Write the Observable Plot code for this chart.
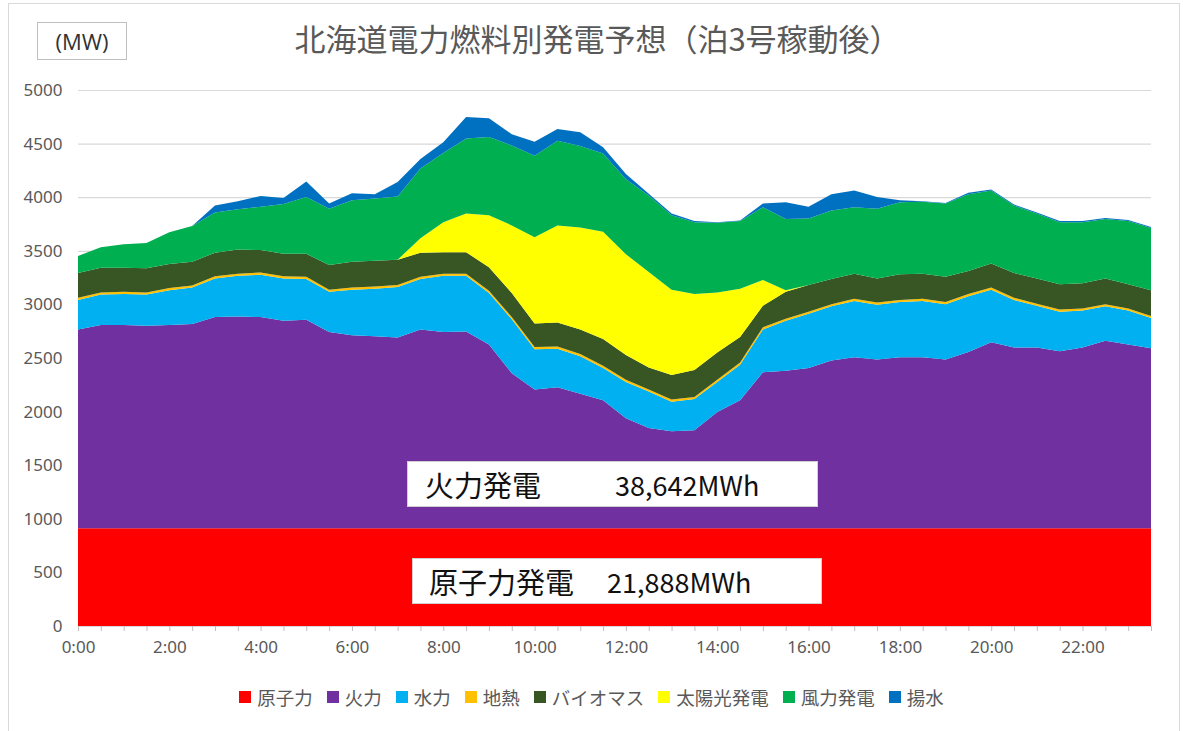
<!DOCTYPE html>
<html><head><meta charset="utf-8">
<script src="https://cdn.jsdelivr.net/npm/d3@7"></script>
<script src="https://cdn.jsdelivr.net/npm/@observablehq/plot@0.6"></script>
<style>
body{margin:0;background:#fff;font-family:"Noto Sans CJK JP","Noto Sans",sans-serif;}
#wrap{position:relative;width:1183px;height:731px;overflow:hidden;background:#fff;}
#frame{position:absolute;left:8px;top:3px;width:1170px;height:760px;border:1px solid #d9d9d9;}
#title{position:absolute;left:6px;width:1183px;top:21px;text-align:center;font-size:31px;line-height:34px;color:#595959;white-space:nowrap;}
#unit{position:absolute;left:37px;top:22px;width:90px;height:38px;box-sizing:border-box;border:1px solid #bfbfbf;text-align:center;font-size:22px;line-height:36px;color:#333;font-family:"Open Sans","Noto Sans",sans-serif;}
#chart{position:absolute;left:0;top:70px;}
.note{position:absolute;background:#fff;border:1px solid #d0d0d0;box-sizing:border-box;color:#111;font-size:29px;white-space:nowrap;}
.note span{position:absolute;top:50%;transform:translateY(-50%);}
#legend{position:absolute;left:0;width:1183px;top:684px;display:flex;justify-content:center;gap:14px;font-size:18.5px;color:#595959;}
#legend .item{display:flex;align-items:center;gap:6px;}
#legend .sw{width:12px;height:12px;display:inline-block;}
</style></head>
<body>
<div id="wrap">
  <div id="frame"></div>
  <div id="title"></div>
  <div id="unit">(MW)</div>
  <div id="chart"></div>
  <div class="note" id="note1" style="left:407px;top:461px;width:411px;height:46px;"></div>
  <div class="note" id="note2" style="left:412px;top:558px;width:410px;height:46px;"></div>
  <div id="legend"></div>
</div>
<script>
const titleText = "北海道電力燃料別発電予想（泊3号稼動後）";
const timeLabels = ["0:00","0:30","1:00","1:30","2:00","2:30","3:00","3:30","4:00","4:30",
  "5:00","5:30","6:00","6:30","7:00","7:30","8:00","8:30","9:00","9:30",
  "10:00","10:30","11:00","11:30","12:00","12:30","13:00","13:30","14:00","14:30",
  "15:00","15:30","16:00","16:30","17:00","17:30","18:00","18:30","19:00","19:30",
  "20:00","20:30","21:00","21:30","22:00","22:30","23:00","23:30"];
const seriesNames = ["原子力","火力","水力","地熱","バイオマス","太陽光発電","風力発電","揚水"];
const seriesColors = ["#ff0000","#7030a0","#00b0f0","#ffc000","#375623","#ffff00","#00b050","#0070c0"];
const yTicks = [0,500,1000,1500,2000,2500,3000,3500,4000,4500,5000];
const xLabelHours = [0,2,4,6,8,10,12,14,16,18,20,22];

const nuclear = [912,912,912,912,912,912,912,912,912,912,912,912,912,912,912,912,912,912,912,912,912,912,912,912,
  912,912,912,912,912,912,912,912,912,912,912,912,912,912,912,912,912,912,912,912,912,912,912,912];
const thermal = [1855,1895,1895,1890,1895,1905,1970,1975,1970,1935,
  1945,1830,1800,1790,1780,1855,1830,1835,1715,1445,
  1295,1315,1255,1195,1025,935,905,915,1085,1195,
  1455,1470,1495,1565,1595,1575,1595,1595,1575,1645,
  1735,1685,1685,1650,1685,1750,1715,1680];
const hydro = [275,285,290,290,325,340,360,380,395,395,
  380,375,425,445,470,470,525,520,480,505,
  375,360,350,300,340,340,275,290,280,330,
  400,465,505,505,525,510,515,525,515,520,
  490,445,390,370,345,320,315,280];
const geothermal = [20,20,20,20,20,20,20,20,20,20,20,20,20,20,20,20,20,20,20,20,20,20,20,20,
  20,20,20,20,20,20,20,20,20,20,20,20,20,20,20,20,20,20,20,20,20,20,20,20];
const biomass = [230,230,225,225,225,220,220,225,210,210,
  215,230,240,240,235,225,200,200,220,225,
  220,225,230,250,230,205,230,250,255,240,
  200,250,250,235,235,225,240,235,235,215,
  225,230,235,235,235,240,225,240];
const solar = [0,0,0,0,0,0,0,0,0,0,
  0,0,0,0,0,135,280,360,485,630,
  805,905,950,1000,940,890,795,710,560,450,
  240,15,0,0,0,0,0,0,0,0,
  0,0,0,0,0,0,0,0];
const wind = [160,190,220,235,295,335,375,375,405,465,
  530,525,575,580,590,650,645,700,730,745,
  760,790,760,730,700,715,695,670,650,630,
  680,665,620,640,620,650,670,670,685,715,
  680,630,605,580,570,555,590,580];
const pumped = [0,0,0,0,0,0,65,75,100,55,
  145,50,65,40,135,90,100,200,175,105,
  130,110,130,60,50,15,15,10,5,5,
  35,155,110,150,155,110,20,5,5,15,
  10,10,10,10,10,10,10,10];
const notes = [
  {label: "火力発電", value: "38,642MWh"},
  {label: "原子力発電", value: "21,888MWh"}
];

const seriesValues = [nuclear, thermal, hydro, geothermal, biomass, solar, wind, pumped];
const toHours = s => { const [h, m] = s.split(":").map(Number); return h + m / 60; };
const hours = timeLabels.map(toHours);
const rows = [];
seriesNames.forEach((name, si) => {
  seriesValues[si].forEach((v, i) => rows.push({t: hours[i], v, s: name}));
});

document.getElementById("title").textContent = titleText;

const chart = Plot.plot({
  width: 1183,
  height: 600,
  marginLeft: 78,
  marginRight: 32,
  marginTop: 20,
  marginBottom: 44,
  style: {fontFamily: "'Noto Sans', 'Noto Sans CJK JP', sans-serif", background: "transparent"},
  x: {domain: [hours[0], hours[hours.length - 1]], label: null},
  y: {domain: [0, 5000], label: null},
  color: {domain: seriesNames, range: seriesColors},
  marks: [
    Plot.gridY(yTicks, {stroke: "#d9d9d9", strokeOpacity: 1, strokeWidth: 1.2}),
    Plot.areaY(rows, {x: "t", y: "v", fill: "s", curve: "linear"}),
    Plot.axisY({ticks: yTicks, tickSize: 0, tickPadding: 16, fontSize: 17, fill: "#595959", tickFormat: d3.format("d"), label: null}),
    Plot.axisX({ticks: hours, tickSize: 5, stroke: "#bfbfbf", tickPadding: 9, fontSize: 17, fill: "#595959", label: null,
      tickFormat: d => xLabelHours.includes(d) ? `${d}:00` : ""})
  ]
});
document.getElementById("chart").appendChild(chart);

const n1 = document.getElementById("note1");
n1.innerHTML = `<span style="left:17px">${notes[0].label}</span><span style="left:207px;font-size:27px">${notes[0].value}</span>`;
const n2 = document.getElementById("note2");
n2.innerHTML = `<span style="left:16px">${notes[1].label}</span><span style="left:194px;font-size:27px">${notes[1].value}</span>`;

const legend = document.getElementById("legend");
seriesNames.forEach((name, i) => {
  const item = document.createElement("div");
  item.className = "item";
  item.innerHTML = `<span class="sw" style="background:${seriesColors[i]}"></span><span>${name}</span>`;
  legend.appendChild(item);
});
</script>
</body></html>
